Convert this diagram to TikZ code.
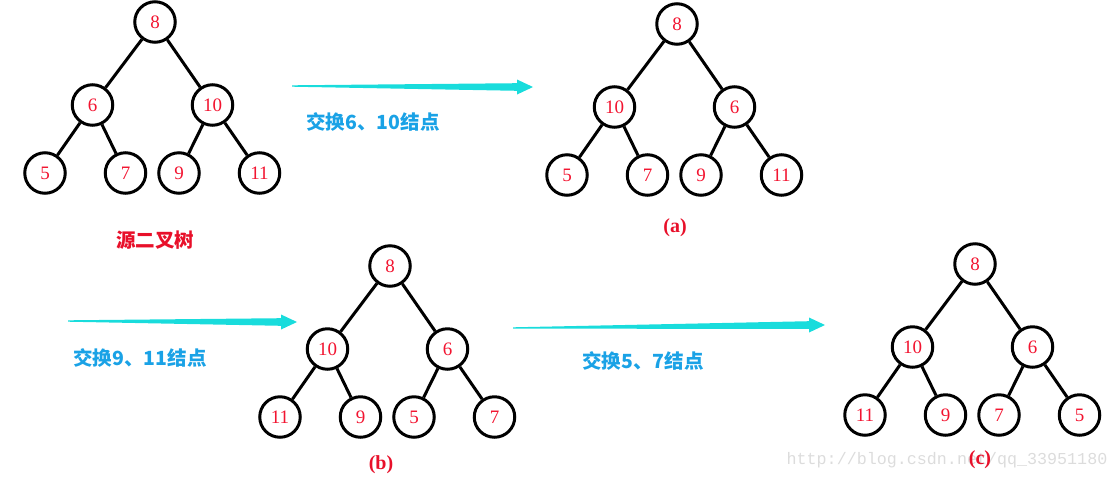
\documentclass[tikz,border=0pt]{standalone}
\usepackage{fontspec}
\setmainfont{Liberation Serif}
\newfontfamily\cjk{Noto Sans CJK SC}
\newfontfamily\wmfont{Liberation Mono}
\usetikzlibrary{calc}
\definecolor{nodered}{HTML}{F21430}
\definecolor{labred}{HTML}{E8102A}
\definecolor{arrowc}{HTML}{19DCDC}
\definecolor{stepblue}{HTML}{1AA2E6}
\definecolor{wmgray}{HTML}{DCDCDC}
\newcommand\bintree[9]{%
  \node[nd] (#1r)  at (155,22)    {8};
  \node[nd] (#1l)  at (92.5,105)  {#4};
  \node[nd] (#1rr) at (212.5,105) {#5};
  \node[nd] (#1ll) at (45,173)    {#6};
  \node[nd] (#1lr) at (125.5,173) {#7};
  \node[nd] (#1rl) at (179,173)   {#8};
  \node[nd] (#1rx) at (259.5,173) {#9};
  \draw[ed] (#1r) -- (#1l);
  \draw[ed] (#1r) -- (#1rr);
  \draw[ed] (#1l) -- (#1ll);
  \draw[ed] (#1l) -- (#1lr);
  \draw[ed] (#1rr) -- (#1rl);
  \draw[ed] (#1rr) -- (#1rx);
}
\newcommand\tarrow[4]{% start, end, head half width, shaft half width
  \fill[arrowc] ($(#1)+(0,-0.7)$) -- ($(#2)+(-16,-#4)$) -- ($(#2)+(-16,-#3)$) -- (#2)
     -- ($(#2)+(-16,#3)$) -- ($(#2)+(-16,#4)$) -- ($(#1)+(0,0.7)$) -- cycle;
}
\begin{document}
\begin{tikzpicture}[x=1pt,y=-1pt,
  nd/.style={circle,draw=black,line width=3pt,minimum size=40.5pt,inner sep=0pt,
    font=\fontsize{19}{19}\selectfont,text=nodered},
  ed/.style={line width=3pt,draw=black},
  steptext/.style={font=\cjk\bfseries\fontsize{19.5}{19.5}\selectfont,text=stepblue},
  caption/.style={font=\bfseries\fontsize{20}{20}\selectfont,text=labred}]
\useasboundingbox (0,0) rectangle (1118,480);
% source tree
\begin{scope}
  \bintree{s}{}{}{6}{10}{5}{7}{9}{11}
\end{scope}
\node[font=\cjk\bfseries\fontsize{19.5}{19.5}\selectfont,text=labred] (srclab) at (155,240) {源二叉树};
% tree (a)
\begin{scope}[shift={(522,2)}]
  \bintree{a}{}{}{10}{6}{5}{7}{9}{11}
\end{scope}
\node[caption] (alab) at (675,228) {(a)};
% tree (b)
\begin{scope}[shift={(235,244)}]
  \bintree{b}{}{}{10}{6}{11}{9}{5}{7}
\end{scope}
\node[caption] (blab) at (381,465) {(b)};
% tree (c)
\begin{scope}[shift={(820,242)}]
  \bintree{c}{}{}{10}{6}{11}{9}{7}{5}
\end{scope}
\node[font=\wmfont\fontsize{16.7}{16.7}\selectfont,text=wmgray] (wm) at (947,460) {http://blog.csdn.net/qq\_33951180};
\node[caption] (clab) at (980,460) {(c)};
% arrows
\coordinate (a1s) at (292,86);
\coordinate (a1e) at (533,87);
\tarrow{a1s}{a1e}{7.5}{3.8}
\node[steptext] (t1) at (373,122) {交换6、10结点};
\coordinate (a2s) at (68,321);
\coordinate (a2e) at (297,322);
\tarrow{a2s}{a2e}{7.5}{3.8}
\node[steptext] (t2) at (140,358) {交换9、11结点};
\coordinate (a3s) at (513,328);
\coordinate (a3e) at (825,325);
\tarrow{a3s}{a3e}{7.5}{3.8}
\node[steptext] (t3) at (643,361) {交换5、7结点};
\end{tikzpicture}
\end{document}
